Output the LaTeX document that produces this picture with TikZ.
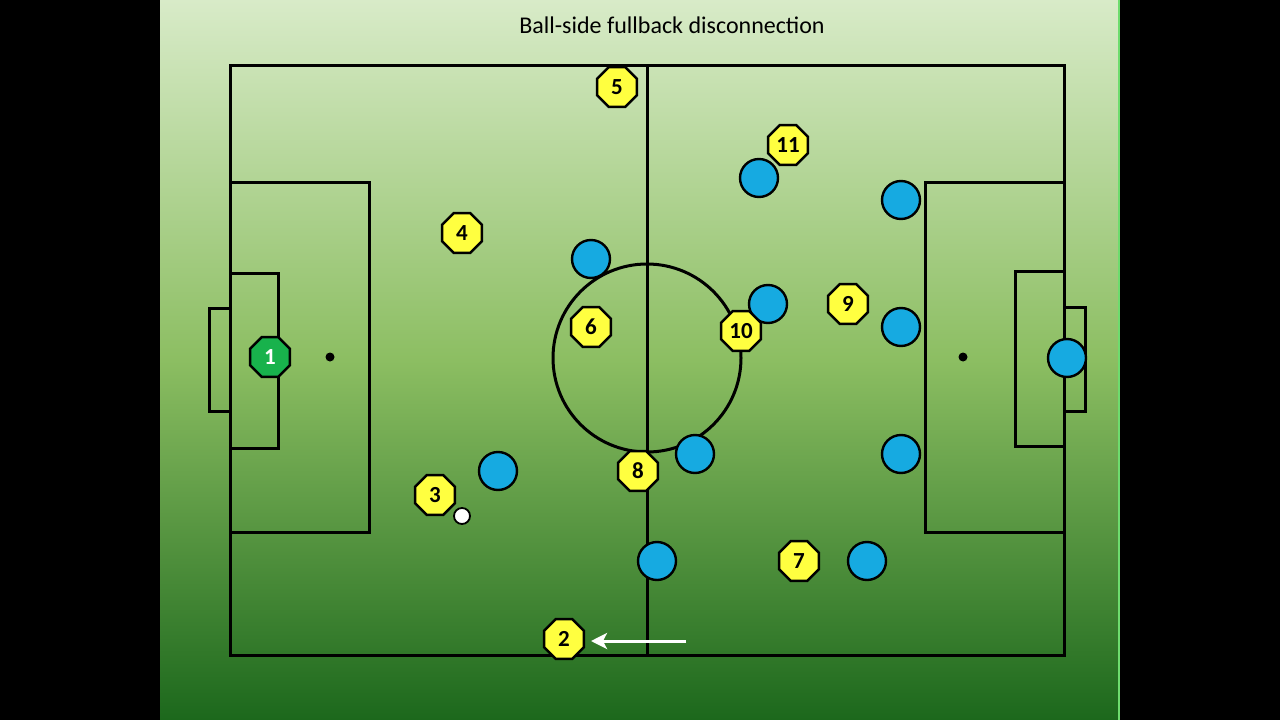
\documentclass[tikz,border=0pt]{standalone}
\usepackage{fontspec}
\setmainfont{Carlito}
\usetikzlibrary{shapes.geometric,arrows.meta}
\definecolor{ytop}{RGB}{216,235,200}
\definecolor{ymid}{RGB}{140,190,98}
\definecolor{ybot}{RGB}{28,104,28}
\definecolor{pyellow}{RGB}{255,255,64}
\definecolor{pblue}{RGB}{22,170,225}
\definecolor{pgreen}{RGB}{24,178,76}
\definecolor{edgegreen}{RGB}{110,220,110}
\tikzset{
  line/.style={line width=3pt, draw=black},
  yp/.style={regular polygon, regular polygon sides=8, minimum size=43pt, inner sep=0pt, fill=pyellow, draw=black, line width=2.4pt, font=\fontsize{23}{23}\selectfont\bfseries},
  gk/.style={yp, fill=pgreen, text=white},
  bp/.style={circle, minimum size=38pt, inner sep=0pt, fill=pblue, draw=black, line width=2.4pt},
  ballst/.style={circle, minimum size=16pt, inner sep=0pt, fill=white, draw=black, line width=1.8pt},
  spot/.style={circle, minimum size=9pt, inner sep=0pt, fill=black},
}
\begin{document}
\begin{tikzpicture}[x=1pt,y=-1pt]
\useasboundingbox (0,0) rectangle (1280,720);
\fill[black] (0,0) rectangle (1280,720);
\shade[top color=ytop, bottom color=ybot, middle color=ymid] (160,0) rectangle (1119,720);
\draw[edgegreen, line width=1.2pt] (1119,0) -- (1119,720);
\node[font=\fontsize{24}{24}\selectfont] (title) at (672,25) {Ball-side fullback disconnection};
% pitch
\draw[line] (230,65) rectangle (1064,655);
\draw[line] (647,65) -- (647,655);
\draw[line] (230,182) rectangle (369,532);
\draw[line] (230,273) rectangle (278,448);
\draw[line] (230,308) -- (209,308) -- (209,411) -- (230,411);
\draw[line] (925,182) rectangle (1064,532);
\draw[line] (1015,271) rectangle (1064,446);
\draw[line] (1064,307) -- (1085,307) -- (1085,411) -- (1064,411);
\draw[line] (647,358) circle (94);
\node[spot] (lspot) at (330,357) {};
\node[spot] (rspot) at (963,357) {};
% blue players
\node[bp] (b1) at (759,178) {};
\node[bp] (b2) at (901,200) {};
\node[bp] (b3) at (591,259) {};
\node[bp] (b4) at (768,304) {};
\node[bp] (b5) at (901,327) {};
\node[bp] (b6) at (1067,358) {};
\node[bp] (b7) at (695,454) {};
\node[bp] (b8) at (901,454) {};
\node[bp] (b9) at (498,471) {};
\node[bp] (b10) at (657,561) {};
\node[bp] (b11) at (867,561) {};
% yellow players
\node[gk] (p1) at (270,357) {1};
\node[yp] (p2) at (564,639) {2};
\node[yp] (p3) at (435,495) {3};
\node[yp] (p4) at (462,233) {4};
\node[yp] (p5) at (617,87) {5};
\node[yp] (p6) at (591,327) {6};
\node[yp] (p7) at (799,561) {7};
\node[yp] (p8) at (638,471) {8};
\node[yp] (p9) at (848,304) {9};
\node[yp] (p10) at (741,331) {10};
\node[yp] (p11) at (788,145) {11};
\node[ballst] (ball) at (462,516) {};
% arrow
\coordinate (astart) at (686,641);
\coordinate (aend) at (591,641);
\draw[white, line width=3pt, -{Stealth[length=16pt,width=16pt,inset=4pt]}] (astart) -- (aend);
\end{tikzpicture}
\end{document}
